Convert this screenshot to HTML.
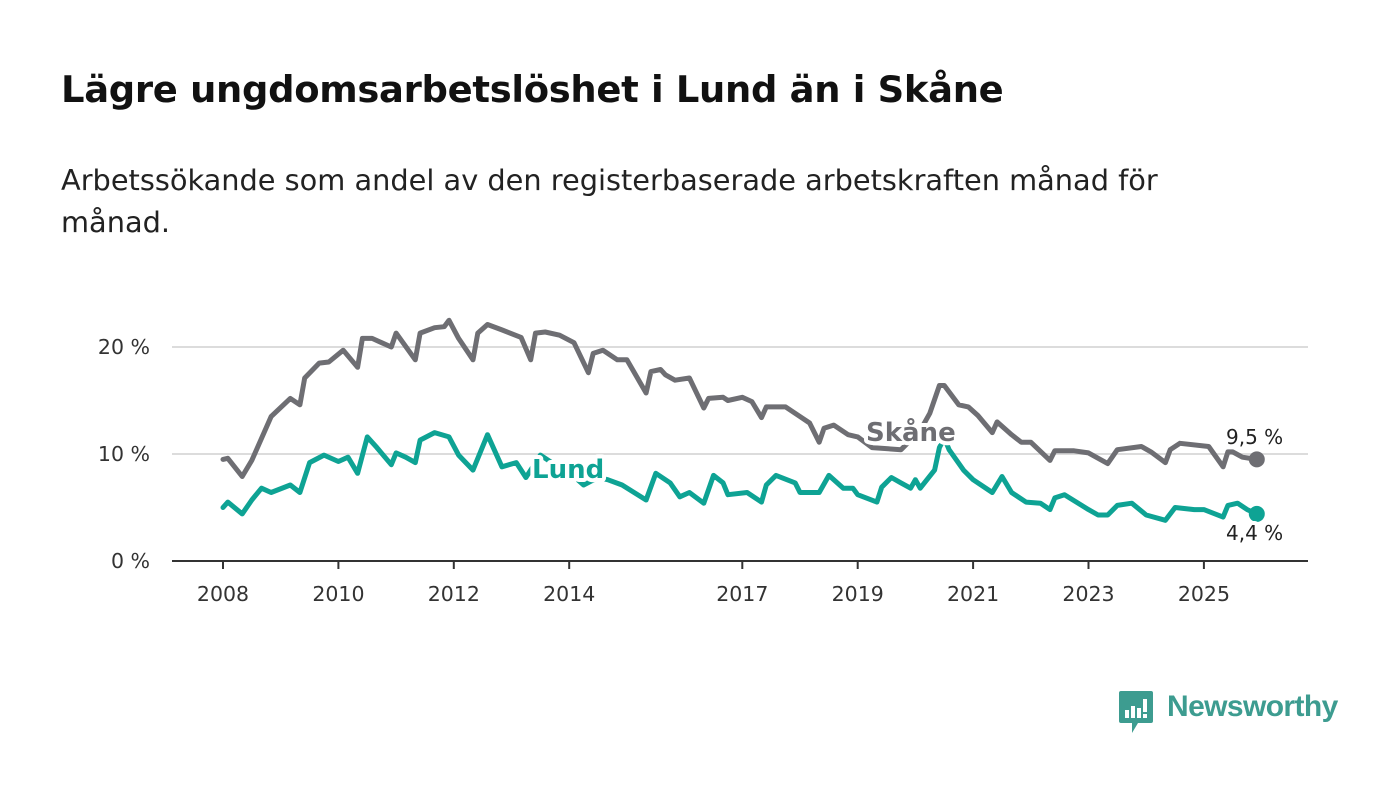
<!DOCTYPE html>
<html><head><meta charset="utf-8"><style>
body{margin:0;background:#fff;width:1400px;height:794px;overflow:hidden;font-family:"DejaVu Sans","Liberation Sans",sans-serif;}
#title{position:absolute;left:61px;top:68px;font-size:36.9px;font-weight:bold;color:#111;margin:0;letter-spacing:-0.3px}
#sub{position:absolute;left:61px;top:159px;width:1190px;font-size:28.8px;line-height:42px;color:#222;margin:0}
svg{position:absolute;left:0;top:0}
</style></head><body>
<h1 id="title">Lägre ungdomsarbetslöshet i Lund än i Skåne</h1>
<p id="sub">Arbetssökande som andel av den registerbaserade arbetskraften månad för månad.</p>
<svg id="chart" width="1400" height="794"></svg>
<script>
const yTicks=[0,10,20];
const xTickYears=[2008,2010,2012,2014,2017,2019,2021,2023,2025];
const skaneMonths=[0,1,4,6,10,14,16,17,20,22,25,28,29,31,35,36,40,41,44,46,47,49,52,53,55,58,62,64,65,67,70,73,76,77,79,82,84,88,89,91,92,94,97,100,101,104,105,108,110,112,113,117,120,122,124,125,127,130,132,135,141,145,147,149,150,153,155,157,160,161,164,166,168,172,173,177,180,184,186,191,193,196,197,199,205,208,209,210,212,215];
const skaneValues=[9.5,9.6,7.9,9.4,13.5,15.2,14.6,17.1,18.5,18.6,19.7,18.1,20.8,20.8,20.0,21.3,18.8,21.3,21.8,21.9,22.5,20.8,18.8,21.3,22.1,21.6,20.9,18.8,21.3,21.4,21.1,20.4,17.6,19.4,19.7,18.8,18.8,15.7,17.7,17.9,17.4,16.9,17.1,14.3,15.2,15.3,15.0,15.3,14.9,13.4,14.4,14.4,13.5,12.9,11.1,12.4,12.7,11.8,11.6,10.6,10.4,12.2,13.8,16.4,16.4,14.6,14.4,13.6,12.0,13.0,11.8,11.1,11.1,9.4,10.3,10.3,10.1,9.1,10.4,10.7,10.2,9.2,10.4,11.0,10.7,8.8,10.2,10.2,9.7,9.5];
const lundMonths=[0,1,4,6,8,10,14,16,18,21,24,26,28,30,32,35,36,38,40,41,44,47,49,52,55,58,61,63,66,69,72,75,78,80,83,88,90,93,95,97,100,102,104,105,109,112,113,115,119,120,124,126,129,131,132,136,137,139,141,143,144,145,148,149,150,151,154,156,160,162,164,167,170,172,173,175,180,182,184,186,189,192,196,198,202,204,208,209,211,213,215];
const lundValues=[5.0,5.5,4.4,5.7,6.8,6.4,7.1,6.4,9.2,9.9,9.3,9.7,8.2,11.6,10.6,9.0,10.1,9.7,9.2,11.3,12.0,11.6,9.9,8.5,11.8,8.8,9.2,7.8,9.9,9.0,8.3,7.1,7.8,7.6,7.1,5.7,8.2,7.3,6.0,6.4,5.4,8.0,7.3,6.2,6.4,5.5,7.1,8.0,7.3,6.4,6.4,8.0,6.8,6.8,6.2,5.5,6.9,7.8,7.3,6.8,7.6,6.8,8.5,10.6,11.5,10.4,8.5,7.6,6.4,7.9,6.4,5.5,5.4,4.8,5.9,6.2,4.8,4.3,4.3,5.2,5.4,4.3,3.8,5.0,4.8,4.8,4.1,5.2,5.4,4.8,4.4];
const svg=document.getElementById('chart');const NS='http://www.w3.org/2000/svg';
function x(m){return 223+m*(57.7/12);}
function xYear(yr){return x((yr-2008)*12);}
function y(v){return 561-v*10.7;}
function mk(t,a,p){const e=document.createElementNS(NS,t);for(const k in a)e.setAttribute(k,a[k]);(p||svg).appendChild(e);return e;}
yTicks.forEach(v=>{
 if(v>0){const g=mk('line',{x1:172,x2:1308,y1:y(v),y2:y(v),stroke:'#dcdcdc','stroke-width':2});
 
 }
 const t=mk('text',{x:150,y:y(v)+7,'text-anchor':'end','font-size':20.5,fill:'#333'});t.textContent=v+' %';
 
 
});
const ax=mk('line',{x1:172,x2:1308,y1:561,y2:561,stroke:'#333','stroke-width':2});


xTickYears.forEach(yr=>{
 const tk=mk('line',{x1:xYear(yr),x2:xYear(yr),y1:561,y2:569,stroke:'#333','stroke-width':2});
 
 
 const t=mk('text',{x:xYear(yr),y:601,'text-anchor':'middle','font-size':20.5,fill:'#333'});t.textContent=yr;
 
 
});
function line(ms,vs,col,name){
 const d=ms.map((m,i)=>(i?'L':'M')+x(m).toFixed(1)+','+y(vs[i]).toFixed(1)).join('');
 const p=mk('path',{d:d,fill:'none',stroke:col,'stroke-width':5,'stroke-linejoin':'round','stroke-linecap':'round'});
 
 
 const n=ms.length-1;
 const c=mk('circle',{cx:x(ms[n]),cy:y(vs[n]),r:8,fill:col});
 
 
}
line(skaneMonths,skaneValues,'#6e6e73','skane-line');
line(lundMonths,lundValues,'#0ea394','lund-line');
function lab(tx,xx,yy,col,name,bold,sz){
 const t=mk('text',{x:xx,y:yy,'font-size':sz,fill:col,'font-weight':bold?'bold':'normal',stroke:'#fff','stroke-width':8,'paint-order':'stroke','stroke-linejoin':'round'});t.textContent=tx;
 
 
}
lab('Skåne',866,441,'#6e6e73','skane-label',true,26);
lab('Lund',532,478,'#0ea394','lund-label',true,26);
const n1=skaneValues.length-1,n2=lundValues.length-1;
lab(skaneValues[n1].toFixed(1).replace('.',',')+' %',1226,444,'#222','skane-end-value',false,20);
lab(lundValues[n2].toFixed(1).replace('.',',')+' %',1226,540,'#222','lund-end-value',false,20);
</script>
<div style="position:absolute;left:1119px;top:691px;">
<svg width="36" height="44" style="position:absolute;left:0;top:0">
<path d="M2 0H32Q34 0 34 2V30Q34 32 32 32H19L13 42L13 32H2Q0 32 0 30V2Q0 0 2 0Z" fill="#3d9c90"/>
<rect x="6" y="19" width="4" height="8" fill="#fff"/><rect x="12" y="15" width="4" height="12" fill="#fff"/><rect x="18" y="17" width="4" height="10" fill="#fff"/><rect x="24" y="8" width="4" height="13" fill="#fff"/><rect x="24" y="23" width="4" height="4" fill="#fff"/>
</svg>
<span style="position:absolute;left:48px;top:-1px;font-family:'Liberation Sans',sans-serif;font-size:30px;font-weight:bold;color:#3d9c90;white-space:nowrap;letter-spacing:-0.6px">Newsworthy</span>
</div>
</body></html>
